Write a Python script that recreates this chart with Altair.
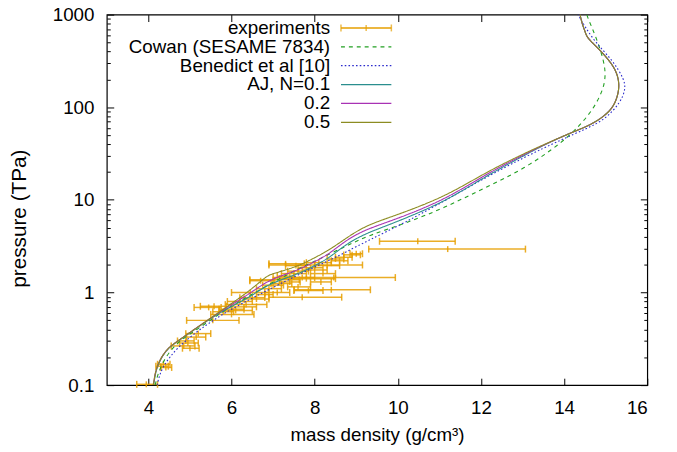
import altair as alt
import pandas as pd

# ---------------- data ----------------
# experiments: centre density, lower / upper error limits (g/cm3), pressure (TPa)
exp_rho = [3.95, 4.30, 4.36, 4.42, 4.85, 4.95, 5.00, 5.15, 5.20, 4.90, 5.55, 5.45, 5.58, 5.80, 6.00,
           6.10, 6.00, 6.30, 6.35, 6.20, 6.45, 6.50, 6.60, 6.70, 6.80, 7.00, 7.10, 6.90, 7.00, 7.20,
           7.30, 7.30, 7.40, 7.50, 7.55, 7.60, 7.70, 7.70, 7.80, 7.85, 7.90, 8.00, 8.00, 8.10, 8.20,
           8.30, 8.40, 8.46, 8.50, 8.60, 8.70, 8.90, 9.00, 10.48, 11.20, 7.60, 8.15]
exp_lo = [3.72, 4.18, 4.22, 4.30, 4.55, 4.75, 4.82, 4.92, 4.90, 4.70, 4.92, 5.10, 5.25, 5.55, 5.50,
          5.70, 5.70, 6.00, 5.85, 5.90, 6.00, 6.20, 6.30, 6.44, 6.60, 6.44, 6.80, 6.60, 6.75, 6.95,
          6.90, 7.10, 7.15, 7.20, 7.30, 7.35, 6.90, 7.40, 7.16, 7.50, 7.60, 7.70, 6.90, 7.80, 7.90,
          8.00, 7.51, 7.00, 8.30, 8.40, 8.50, 8.70, 8.85, 9.56, 9.30, 7.35, 7.90]
exp_hi = [4.22, 4.48, 4.52, 4.56, 5.12, 5.20, 5.22, 5.38, 5.50, 5.10, 6.18, 5.75, 5.88, 6.05, 6.54,
          6.50, 6.30, 6.60, 6.85, 6.50, 6.90, 6.80, 6.90, 7.04, 7.00, 7.63, 7.40, 7.20, 7.25, 7.45,
          7.75, 7.50, 7.65, 7.80, 7.80, 7.85, 8.65, 8.00, 8.50, 8.20, 8.20, 8.30, 9.15, 8.40, 8.50,
          8.60, 9.34, 9.94, 8.70, 8.80, 8.90, 9.10, 9.15, 11.38, 13.07, 7.90, 8.40]
exp_p = [0.102, 0.160, 0.168, 0.155, 0.265, 0.285, 0.250, 0.330, 0.360, 0.300, 0.500, 0.690, 0.710, 0.620, 0.580,
         0.640, 0.660, 0.700, 0.740, 0.800, 1.000, 0.880, 0.850, 1.340, 0.950, 1.370, 1.000, 1.100, 1.200, 1.250,
         2.040, 1.500, 1.300, 1.600, 1.950, 1.700, 0.890, 1.450, 1.410, 1.050, 1.850, 1.750, 1.980, 2.100, 1.600,
         1.950, 1.070, 1.450, 2.300, 2.200, 2.400, 2.550, 2.620, 3.570, 2.940, 1.150, 1.300]

cowan_rho = [4.164, 4.212, 4.331, 4.521, 4.782, 5.186, 5.567, 6.018, 6.493, 6.969, 7.563, 8.110, 8.751,
             9.298, 10.177, 11.127, 12.078, 13.029, 13.979, 14.383, 14.645, 14.882, 15.001, 14.977,
             14.763, 14.573, 14.549]
cowan_p = [0.100, 0.1246, 0.1714, 0.2357, 0.3086, 0.404, 0.529, 0.7274, 0.952, 1.277, 1.757, 2.300, 3.162,
           4.140, 5.555, 8.222, 13.42, 21.37, 42.4, 64.3, 88.5, 134.2, 198.6, 301.0, 583.4, 906.6, 1000]

ben_rho = [4.212, 4.259, 4.355, 4.521, 4.759, 5.067, 5.424, 5.899, 6.446, 6.850, 7.325, 7.800, 8.276,
           8.751, 9.298, 10.177, 11.127, 12.078, 13.029, 13.979, 14.526, 15.001, 15.357, 15.476,
           15.452, 15.167, 14.692, 14.336]
ben_p = [0.100, 0.1246, 0.1592, 0.2034, 0.2664, 0.3488, 0.4567, 0.6279, 0.8424, 1.050, 1.342, 1.714,
         2.137, 2.731, 3.663, 5.692, 9.76, 17.14, 28.67, 45.66, 58.3, 74.5, 113.0, 155.4, 198.6,
         324.0, 528.9, 1000]

aj01_rho = [4.125, 4.149, 4.172, 4.220, 4.315, 4.434, 4.553, 4.790, 5.028, 5.503, 5.994, 6.470, 6.897,
            7.563, 7.990, 8.347, 8.751, 9.226, 9.939, 11.127, 12.078, 13.029, 13.670, 14.217, 14.692,
            15.096, 15.262, 15.334, 15.286, 15.167, 14.930, 14.692, 14.550, 14.502, 14.431, 14.383]
aj01_p = [0.100, 0.1158, 0.1342, 0.1592, 0.1985, 0.2357, 0.2664, 0.3162, 0.3754, 0.529, 0.7097, 0.9066,
          1.246, 1.554, 1.937, 2.357, 3.321, 4.347, 5.692, 9.52, 17.57, 30.1, 42.4, 54.2, 65.9, 88.5,
          118.7, 167.3, 224.4, 286.7, 384.7, 491.5, 569.2, 659.4, 802.3, 1000]

aj02_rho = [4.117, 4.141, 4.164, 4.212, 4.307, 4.426, 4.545, 4.782, 5.020, 5.495, 5.971, 6.446, 6.897,
            7.563, 7.990, 8.347, 8.751, 9.226, 9.939, 11.127, 12.078, 13.029, 13.670, 14.217, 14.692,
            15.096, 15.262, 15.334, 15.286, 15.167, 14.930, 14.692, 14.550, 14.502, 14.431, 14.383]
aj02_p = [0.100, 0.1158, 0.1342, 0.1592, 0.1985, 0.2357, 0.2664, 0.3162, 0.3754, 0.529, 0.7274, 0.9759,
          1.375, 1.714, 2.137, 2.600, 3.663, 4.797, 6.128, 10.0, 18.45, 30.86, 42.4, 54.2, 65.9, 88.5,
          118.7, 167.3, 224.4, 286.7, 384.7, 491.5, 569.2, 659.4, 802.3, 1000]

aj05_rho = [4.117, 4.141, 4.164, 4.212, 4.307, 4.426, 4.545, 4.782, 5.020, 5.495, 5.971, 6.446, 6.850,
            6.992, 7.563, 7.990, 8.347, 8.751, 9.226, 9.939, 11.127, 12.078, 13.029, 13.670, 14.217,
            14.692, 15.096, 15.262, 15.334, 15.286, 15.167, 14.930, 14.692, 14.550, 14.502, 14.431, 14.383]
aj05_p = [0.100, 0.1158, 0.1342, 0.1592, 0.1985, 0.2357, 0.2664, 0.3162, 0.3754, 0.529, 0.7452, 1.050,
          1.517, 1.593, 1.890, 2.357, 2.867, 3.847, 5.290, 6.758, 10.76, 19.38, 31.62, 42.4, 54.2, 65.9,
          88.5, 118.7, 167.3, 224.4, 286.7, 384.7, 491.5, 569.2, 659.4, 802.3, 1000]

series_names = ["Cowan (SESAME 7834)", "Benedict et al [10]", "AJ, N=0.1", "0.2", "0.5"]
series_colors = ["#22A022", "#2B2BCC", "#2A8E8E", "#A832B4", "#8C8C22"]
series_dash = [[4, 4], [1.6, 2.2], [1, 0], [1, 0], [1, 0]]
exp_name = "experiments"
exp_color = "#E69F00"

x_ticks = [4, 6, 8, 10, 12, 14, 16]
y_major = [0.1, 1, 10, 100, 1000]
y_minor = [0.2, 0.3, 0.4, 0.5, 0.6, 0.7, 0.8, 0.9,
           2, 3, 4, 5, 6, 7, 8, 9,
           20, 30, 40, 50, 60, 70, 80, 90,
           200, 300, 400, 500, 600, 700, 800, 900]

# ---------------- tables ----------------
rows = []
for name, rr, pp in zip(series_names,
                        [cowan_rho, ben_rho, aj01_rho, aj02_rho, aj05_rho],
                        [cowan_p, ben_p, aj01_p, aj02_p, aj05_p]):
    for i, (r, p) in enumerate(zip(rr, pp)):
        rows.append({"series": name, "rho": r, "p": p, "i": i})
curve_df = pd.DataFrame(rows)
exp_df = pd.DataFrame({"rho": exp_rho, "lo": exp_lo, "hi": exp_hi, "p": exp_p})
leg_df = pd.DataFrame({"series": [exp_name] + series_names, "row": list(range(6))})

W, H = 547, 375
FONT = "Liberation Sans"
FS = 19
EXP_W = 1.5
EXP_OP = 0.85

xs = alt.Scale(domain=[3, 16], nice=False, zero=False)
ys = alt.Scale(type="log", domain=[0.1, 1000], nice=False)
col_scale = alt.Scale(domain=series_names, range=series_colors)
dash_scale = alt.Scale(domain=series_names, range=series_dash)


def tick_axis(orient, offset, values, size):
    return alt.Axis(orient=orient, offset=offset, values=values, labels=False, domain=False,
                    grid=False, title=None, ticks=True, tickSize=size, tickColor="black",
                    tickWidth=1)


# experiments
exp_rule = alt.Chart(exp_df).mark_rule(color=exp_color, strokeWidth=EXP_W, opacity=EXP_OP).encode(
    x=alt.X("lo:Q", scale=xs, axis=tick_axis("top", -H, x_ticks, 7)),
    x2="hi:Q",
    y=alt.Y("p:Q", scale=ys, axis=tick_axis("right", -W, y_major, 7)),
)
exp_cap_lo = alt.Chart(exp_df).mark_tick(color=exp_color, orient="vertical", size=7, thickness=EXP_W,
                                         opacity=EXP_OP).encode(
    x=alt.X("lo:Q", scale=xs, axis=tick_axis("bottom", -H, x_ticks, 7)),
    y=alt.Y("p:Q", scale=ys, axis=tick_axis("left", -W, y_major, 7)),
)
exp_cap_hi = alt.Chart(exp_df).mark_tick(color=exp_color, orient="vertical", size=7, thickness=EXP_W,
                                         opacity=EXP_OP).encode(
    x=alt.X("hi:Q", scale=xs, axis=None),
    y=alt.Y("p:Q", scale=ys, axis=tick_axis("right", -W, y_minor, 3.5)),
)
exp_mid = alt.Chart(exp_df).mark_tick(color=exp_color, orient="vertical", size=6, thickness=EXP_W,
                                      opacity=EXP_OP).encode(
    x=alt.X("rho:Q", scale=xs, axis=None),
    y=alt.Y("p:Q", scale=ys, axis=tick_axis("left", -W, y_minor, 3.5)),
)

curves = alt.Chart(curve_df).mark_line(strokeWidth=1.1, clip=True, interpolate="basis").encode(
    x=alt.X("rho:Q", scale=xs,
            axis=alt.Axis(orient="bottom", values=x_ticks, ticks=False, tickSize=0, domain=False,
                          grid=False, labelPadding=23, labelBaseline="middle", labelFontSize=FS,
                          title="mass density (g/cm³)", titleFontSize=FS, titleFontWeight="normal",
                          titleX=W / 2, titleY=50, titleBaseline="middle", titleAlign="center")),
    y=alt.Y("p:Q", scale=ys,
            axis=alt.Axis(orient="left", values=y_major, format="~g", ticks=False, tickSize=0,
                          domain=False, grid=False, labelPadding=13, labelBaseline="middle",
                          labelFontSize=FS, title="pressure (TPa)", titleFontSize=21,
                          titleFontWeight="normal", titleAngle=270, titleX=-88, titleY=206,
                          titleBaseline="middle", titleAlign="center")),
    color=alt.Color("series:N", scale=col_scale, legend=None),
    strokeDash=alt.StrokeDash("series:N", scale=dash_scale, legend=None),
    detail="series:N",
    order="i:Q",
)

# key (drawn manually, labels on the left, samples on the right like gnuplot)
leg_base = alt.Chart(leg_df).transform_calculate(ly="13.5 + 19.1 * datum.row")
leg_text = leg_base.mark_text(align="right", baseline="middle", font=FONT, fontSize=FS,
                              color="black").encode(
    x=alt.value(226), y=alt.Y("ly:Q", scale=None, axis=None), text="series:N")
leg_lines = leg_base.transform_filter("datum.row > 0").mark_rule(strokeWidth=1.2).encode(
    x=alt.value(237), x2=alt.value(288), y=alt.Y("ly:Q", scale=None, axis=None),
    color=alt.Color("series:N", scale=col_scale, legend=None),
    strokeDash=alt.StrokeDash("series:N", scale=dash_scale, legend=None))
leg_exp = leg_base.transform_filter("datum.row == 0")
leg_exp_rule = leg_exp.mark_rule(color=exp_color, strokeWidth=EXP_W).encode(
    x=alt.value(237), x2=alt.value(288), y=alt.Y("ly:Q", scale=None, axis=None))
leg_exp_c1 = leg_exp.mark_tick(color=exp_color, orient="vertical", size=7, thickness=EXP_W).encode(
    x=alt.value(237), y=alt.Y("ly:Q", scale=None, axis=None))
leg_exp_c2 = leg_exp.mark_tick(color=exp_color, orient="vertical", size=7, thickness=EXP_W).encode(
    x=alt.value(288), y=alt.Y("ly:Q", scale=None, axis=None))
leg_exp_c3 = leg_exp.mark_tick(color=exp_color, orient="vertical", size=6, thickness=EXP_W).encode(
    x=alt.value(262.5), y=alt.Y("ly:Q", scale=None, axis=None))

chart = alt.layer(
    exp_rule, exp_cap_lo, exp_cap_hi, exp_mid, curves,
    leg_text, leg_lines, leg_exp_rule, leg_exp_c1, leg_exp_c2, leg_exp_c3,
).resolve_axis(x="independent", y="independent").properties(
    width=W, height=H,
    autosize=alt.AutoSizeParams(type="none"),
    padding={"left": 100, "top": 4, "right": 22, "bottom": 65},
    background="white",
).configure_view(stroke="black", strokeWidth=1.2).configure_axis(
    labelFont=FONT, titleFont=FONT, labelColor="black", titleColor="black", grid=False,
)

chart.save("out.html", embed_options={"renderer": "svg", "actions": False})
